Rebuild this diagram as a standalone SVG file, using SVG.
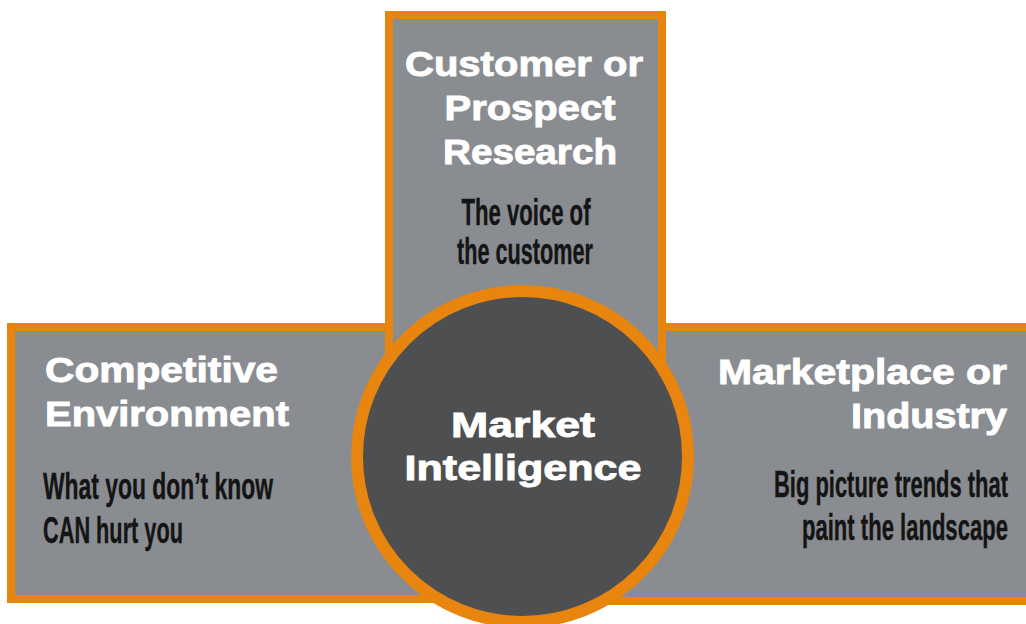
<svg xmlns="http://www.w3.org/2000/svg" width="1026" height="624" viewBox="0 0 1026 624">
  <style>
    .panel { fill: #898c90; stroke: #e8850e; stroke-width: 8; }
    .hub { fill: #4e4f51; stroke: #e8850e; stroke-width: 12; }
    .title { font-family: "Liberation Sans", Arial, sans-serif; font-weight: bold; font-size: 35px; fill: #ffffff; stroke: #ffffff; stroke-width: 0.9; }
    .sub { font-family: "Liberation Sans Narrow", "Liberation Sans", Arial, sans-serif; font-weight: bold; font-size: 37px; fill: #141414; stroke: #141414; stroke-width: 0.4; }
  </style>
  <rect width="1026" height="624" fill="#ffffff"/>

  <!-- left panel -->
  <g id="competitive-environment">
    <rect class="panel" x="11" y="327" width="444" height="272"/>
    <text class="title" x="45" y="382" textLength="233" lengthAdjust="spacingAndGlyphs">Competitive</text>
    <text class="title" x="45" y="426" textLength="244" lengthAdjust="spacingAndGlyphs">Environment</text>
    <text class="sub" x="43" y="499" textLength="230" lengthAdjust="spacingAndGlyphs">What you don’t know</text>
    <text class="sub" x="43" y="543" textLength="140" lengthAdjust="spacingAndGlyphs">CAN hurt you</text>
  </g>

  <!-- right panel, running off the right edge; lines set flush right at x=1008 -->
  <g id="marketplace-industry">
    <rect class="panel" x="600" y="327" width="434" height="274"/>
    <text class="title" x="718" y="384" textLength="289" lengthAdjust="spacingAndGlyphs">Marketplace or</text>
    <text class="title" x="851" y="428" textLength="156" lengthAdjust="spacingAndGlyphs">Industry</text>
    <!-- condensed by a horizontal scale so the box stays inside the panel -->
    <text class="sub" transform="translate(774,497) scale(0.72,1)" textLength="325" lengthAdjust="spacingAndGlyphs">Big picture trends that</text>
    <text class="sub" transform="translate(802,540) scale(0.72,1)" textLength="286" lengthAdjust="spacingAndGlyphs">paint the landscape</text>
  </g>

  <!-- top panel, drawn over the side panels -->
  <g id="customer-research">
    <rect class="panel" x="389" y="15" width="273" height="440"/>
    <text class="title" x="524" y="76" text-anchor="middle" textLength="238" lengthAdjust="spacingAndGlyphs">Customer or</text>
    <text class="title" x="530" y="120" text-anchor="middle" textLength="171" lengthAdjust="spacingAndGlyphs">Prospect</text>
    <text class="title" x="530" y="164" text-anchor="middle" textLength="174" lengthAdjust="spacingAndGlyphs">Research</text>
    <text class="sub" x="526" y="225" text-anchor="middle" textLength="129" lengthAdjust="spacingAndGlyphs">The voice of</text>
    <text class="sub" x="525" y="264" text-anchor="middle" textLength="136" lengthAdjust="spacingAndGlyphs">the customer</text>
  </g>

  <!-- central hub -->
  <g id="market-intelligence">
    <circle class="hub" cx="522.5" cy="456.5" r="165.5"/>
    <text class="title" x="523" y="437" text-anchor="middle" textLength="144" lengthAdjust="spacingAndGlyphs">Market</text>
    <text class="title" x="523" y="480" text-anchor="middle" textLength="237" lengthAdjust="spacingAndGlyphs">Intelligence</text>
  </g>

  <g id="connectors"></g>
</svg>
